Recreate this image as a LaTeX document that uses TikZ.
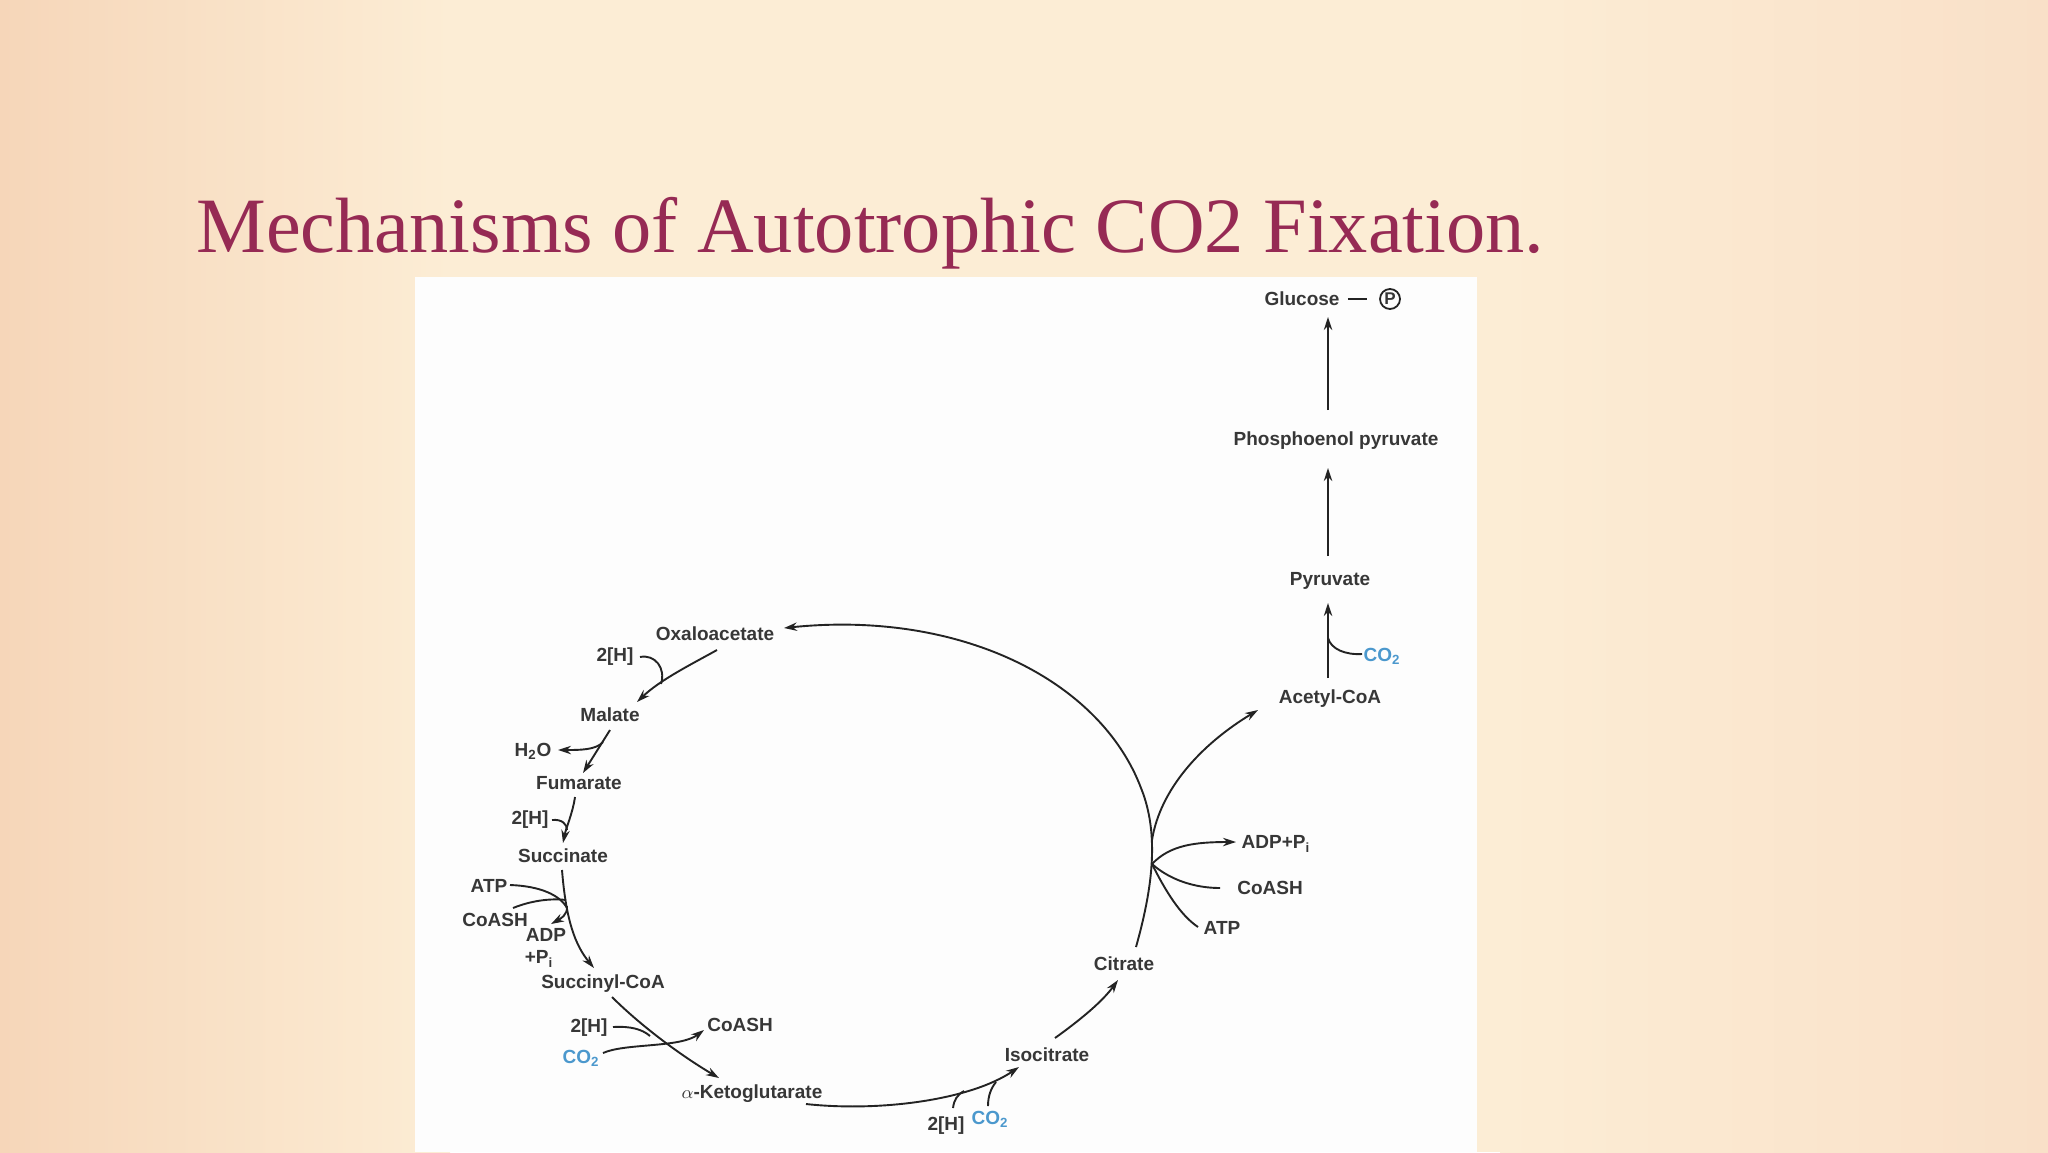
\documentclass[tikz,border=0pt]{standalone}
\usepackage{fontspec}
\setmainfont{Liberation Serif}
\setsansfont{Liberation Sans}
\usetikzlibrary{arrows.meta}
\definecolor{bgbase}{RGB}{252,237,213}
\definecolor{bgleft}{RGB}{246,214,185}
\definecolor{bgright}{RGB}{249,224,200}
\definecolor{panel}{RGB}{253,253,253}
\definecolor{titlec}{RGB}{150,42,84}
\definecolor{txt}{RGB}{55,55,55}
\definecolor{ln}{RGB}{35,35,35}
\definecolor{blu}{RGB}{75,152,205}
\begin{document}
\begin{tikzpicture}[x=0.5pt,y=-0.5pt,
  lbl/.style={font=\sffamily\bfseries\fontsize{9.5}{11}\selectfont, text=txt, inner sep=0pt, text height=6.8pt, text depth=0pt},
  blbl/.style={lbl, text=blu},
  rx/.style={draw=ln, line width=0.95pt},
  arr/.style={rx, -{Stealth[length=6.5pt,width=4.2pt]}}]
\useasboundingbox (0,0) rectangle (2048,1152);
% background
\fill[bgbase] (0,0) rectangle (2048,1152);
\shade[left color=bgleft, right color=bgbase] (0,0) rectangle (450,1152);
\shade[left color=bgbase, right color=bgright] (1500,0) rectangle (2048,1152);
\fill[panel] (415,277) rectangle (1477,1152);
% title
\node[anchor=base west, inner sep=0pt, font=\fontsize{39.2}{45}\selectfont, text=titlec] (title) at (196,252) {Mechanisms of Autotrophic CO2 Fixation.};
% labels
\node[lbl] (glu) at (1302,299) {Glucose};
\node[circle, draw=ln, line width=0.9pt, inner sep=0pt, minimum size=10pt, font=\sffamily\bfseries\fontsize{8.5}{10}\selectfont, text=txt] (pcirc) at (1390,299) {P};
\node[lbl] (pep) at (1336,439) {Phosphoenol pyruvate};
\node[lbl] (pyr) at (1330,579) {Pyruvate};
\node[blbl] (co2a) at (1382,655) {CO\textsubscript{2}};
\node[lbl] (acoa) at (1330,697) {Acetyl-CoA};
\node[lbl] (oxa) at (715,634) {Oxaloacetate};
\node[lbl] (h2a) at (615,655) {2[H]};
\node[lbl] (mal) at (610,715) {Malate};
\node[lbl] (h2o) at (533,750) {H\textsubscript{2}O};
\node[lbl] (fum) at (579,783) {Fumarate};
\node[lbl] (h2b) at (530,818) {2[H]};
\node[lbl] (suc) at (563,856) {Succinate};
\node[lbl] (atpl) at (489,886) {ATP};
\node[lbl] (coal) at (495,920) {CoASH};
\node[lbl] (adp) at (546,935) {ADP};
\node[lbl] (pil) at (539,957) {+P\textsubscript{i}};
\node[lbl] (sco) at (603,982) {Succinyl-CoA};
\node[lbl] (h2c) at (589,1026) {2[H]};
\node[blbl] (co2b) at (581,1057) {CO\textsubscript{2}};
\node[lbl] (coam) at (740,1025) {CoASH};
\node[lbl] (akg) at (752,1092) {$\alpha$-Ketoglutarate};
\node[lbl] (h2d) at (946,1124) {2[H]};
\node[blbl] (co2c) at (990,1118) {CO\textsubscript{2}};
\node[lbl] (iso) at (1047,1055) {Isocitrate};
\node[lbl] (cit) at (1124,964) {Citrate};
\node[lbl] (adpr) at (1276,842) {ADP+P\textsubscript{i}};
\node[lbl] (coar) at (1270,888) {CoASH};
\node[lbl] (atpr) at (1222,928) {ATP};
% junctions on the big arc
\coordinate (ja) at (1152,840);
\coordinate (jr) at (1152,864);
% vertical chain
\draw[rx, shorten <=4pt, shorten >=6pt] (glu.east) -- (pcirc.west);
\draw[arr] ([shift={(-8,-29)}]pep.center) -- ([shift={(26,18)}]glu.center);
\draw[arr] ([shift={(-2,-23)}]pyr.center) -- ([shift={(-8,29)}]pep.center);
\draw[arr] ([shift={(-2,-19)}]acoa.center) -- ([shift={(-2,24)}]pyr.center);
\draw[rx] ([shift={(-20,-1)}]co2a.center) .. controls (1345,655) and (1331,649) .. ([shift={(-2,-59)}]acoa.center);
% big arc citrate -> oxaloacetate
\draw[arr] ([shift={(12,-17)}]cit.center) .. controls (1152,890) and (1160,835) .. (1141,788) .. controls (1100,680) and (960,610) .. ([shift={(69,-6)}]oxa.center);
% citrate cleavage
\draw[arr] (ja) .. controls (1160,790) and (1200,745) .. ([shift={(-72,13)}]acoa.center);
\draw[arr] (jr) .. controls (1170,845) and (1195,842) .. ([shift={(-40,0)}]adpr.center);
\draw[rx] (jr) .. controls (1170,880) and (1195,888) .. ([shift={(-50,0)}]coar.center);
\draw[rx] (jr) .. controls (1165,890) and (1180,915) .. ([shift={(-24,-1)}]atpr.center);
% isocitrate -> citrate
\draw[arr] ([shift={(8,-17)}]iso.center) .. controls (1080,1020) and (1102,1002) .. ([shift={(-6,16)}]cit.center);
% alpha-KG -> isocitrate
\draw[arr] ([shift={(54,12)}]akg.center) .. controls (880,1112) and (970,1100) .. ([shift={(-28,12)}]iso.center);
\draw[rx] ([shift={(7,-16)}]h2d.center) .. controls (954,1100) and (957,1095) .. (964,1091);
\draw[rx] ([shift={(-2,-12)}]co2c.center) .. controls (988,1096) and (991,1088) .. (996,1082);
% succinyl-CoA -> alpha-KG
\draw[arr] ([shift={(9,15)}]sco.center) .. controls (640,1025) and (680,1055) .. ([shift={(-33,-14)}]akg.center);
\draw[rx] ([shift={(24,1)}]h2c.center) .. controls (630,1026) and (642,1029) .. (650,1036);
\draw[arr] ([shift={(22,-4)}]co2b.center) .. controls (625,1043) and (680,1048) .. ([shift={(-36,5)}]coam.center);
% succinate -> succinyl-CoA
\draw[arr] ([shift={(-1,14)}]suc.center) .. controls (566,920) and (575,945) .. ([shift={(-9,-14)}]sco.center);
\draw[rx] ([shift={(21,-1)}]atpl.center) .. controls (540,886) and (560,895) .. (567,908);
\draw[rx] ([shift={(18,-12)}]coal.center) .. controls (530,901) and (550,898) .. (566,900);
\draw[arr] (567,906) .. controls (568,915) and (560,919) .. ([shift={(5,-11)}]adp.center);
% fumarate -> succinate
\draw[arr] ([shift={(-4,14)}]fum.center) .. controls (573,812) and (566,828) .. ([shift={(0,-13)}]suc.center);
\draw[rx] ([shift={(22,2)}]h2b.center) .. controls (562,819) and (567,824) .. (567,830);
% malate -> fumarate
\draw[arr] ([shift={(0,15)}]mal.center) -- ([shift={(4,-10)}]fum.center);
\draw[arr] (603,742) .. controls (596,750) and (580,750) .. ([shift={(25,0)}]h2o.center);
% oxaloacetate -> malate
\draw[arr] ([shift={(2,16)}]oxa.center) .. controls (690,665) and (660,680) .. ([shift={(27,-13)}]mal.center);
\draw[rx] ([shift={(25,2)}]h2a.center) .. controls (655,654) and (666,668) .. (661,684);
\end{tikzpicture}
\end{document}
